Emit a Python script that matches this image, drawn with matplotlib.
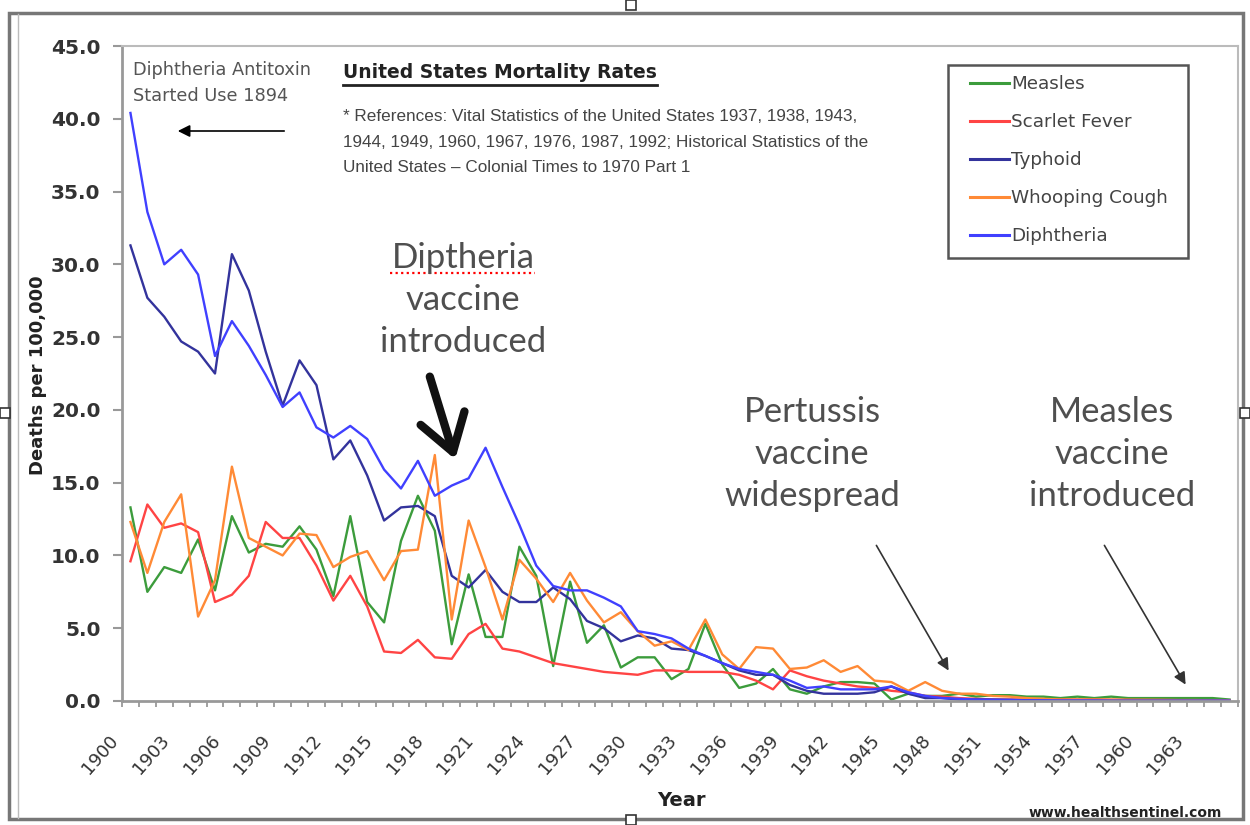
import numpy as np
import matplotlib
matplotlib.use('Agg')
import matplotlib.pyplot as plt
from matplotlib.lines import Line2D
from matplotlib.patches import Rectangle
from matplotlib.transforms import ScaledTranslation
from matplotlib import font_manager

# --- data (deaths per 100,000) ---
years = list(range(1900, 1966))

measles = [13.3, 7.5, 9.2, 8.8, 11.1, 7.6, 12.7, 10.2, 10.8, 10.6,
           12.0, 10.4, 7.2, 12.7, 6.8, 5.4, 11.0, 14.1, 11.7, 3.9,
           8.7, 4.4, 4.4, 10.6, 8.6, 2.4, 8.2, 4.0, 5.2, 2.3,
           3.0, 3.0, 1.5, 2.2, 5.3, 2.5, 0.9, 1.2, 2.2, 0.8,
           0.5, 1.0, 1.3, 1.3, 1.2, 0.1, 0.5, 0.35, 0.35, 0.5,
           0.3, 0.4, 0.4, 0.3, 0.3, 0.2, 0.3, 0.2, 0.3, 0.2,
           0.2, 0.2, 0.2, 0.2, 0.2, 0.1]

scarlet_fever = [9.6, 13.5, 11.9, 12.2, 11.6, 6.8, 7.3, 8.6, 12.3, 11.2,
                 11.2, 9.3, 6.9, 8.6, 6.5, 3.4, 3.3, 4.2, 3.0, 2.9,
                 4.6, 5.3, 3.6, 3.4, 3.0, 2.6, 2.4, 2.2, 2.0, 1.9,
                 1.8, 2.1, 2.1, 2.0, 2.0, 2.0, 1.8, 1.4, 0.8, 2.1,
                 1.7, 1.4, 1.2, 1.0, 0.9, 0.7, 0.6, 0.35, 0.3, 0.2,
                 0.15, 0.1, 0.1, 0.1, 0.1, 0.1, 0.1, 0.1, 0.08, 0.08,
                 0.07, 0.07, 0.06, 0.06, 0.05, 0.05]

typhoid = [31.3, 27.7, 26.4, 24.7, 24.0, 22.5, 30.7, 28.2, 24.0, 20.3,
           23.4, 21.7, 16.6, 17.9, 15.5, 12.4, 13.3, 13.4, 12.7, 8.6,
           7.8, 9.0, 7.5, 6.8, 6.8, 7.8, 7.0, 5.5, 5.0, 4.1,
           4.5, 4.3, 3.6, 3.5, 3.1, 2.6, 2.1, 1.8, 1.8, 1.1,
           0.7, 0.5, 0.5, 0.5, 0.6, 1.0, 0.5, 0.2, 0.2, 0.1,
           0.1, 0.1, 0.08, 0.06, 0.05, 0.05, 0.05, 0.05, 0.04, 0.04,
           0.04, 0.03, 0.03, 0.03, 0.03, 0.03]

whooping_cough = [12.3, 8.8, 12.3, 14.2, 5.8, 8.3, 16.1, 11.2, 10.6, 10.0,
                  11.5, 11.4, 9.2, 9.9, 10.3, 8.3, 10.3, 10.4, 16.9, 5.6,
                  12.4, 9.2, 5.6, 9.7, 8.4, 6.8, 8.8, 6.9, 5.4, 6.1,
                  4.8, 3.8, 4.1, 3.5, 5.6, 3.2, 2.2, 3.7, 3.6, 2.2,
                  2.3, 2.8, 2.0, 2.4, 1.4, 1.3, 0.7, 1.3, 0.7, 0.5,
                  0.5, 0.35, 0.3, 0.2, 0.15, 0.1, 0.1, 0.1, 0.1, 0.08,
                  0.08, 0.07, 0.06, 0.06, 0.05, 0.05]

diphtheria = [40.4, 33.6, 30.0, 31.0, 29.3, 23.7, 26.1, 24.4, 22.4, 20.2,
              21.2, 18.8, 18.1, 18.9, 18.0, 15.9, 14.6, 16.5, 14.1, 14.8,
              15.3, 17.4, 14.7, 12.1, 9.3, 7.9, 7.6, 7.6, 7.1, 6.5,
              4.8, 4.6, 4.3, 3.6, 3.1, 2.6, 2.2, 2.0, 1.8, 1.4,
              0.9, 1.0, 0.8, 0.8, 0.8, 1.0, 0.6, 0.35, 0.2, 0.15,
              0.1, 0.08, 0.07, 0.05, 0.05, 0.04, 0.04, 0.04, 0.03, 0.03,
              0.03, 0.03, 0.03, 0.03, 0.03, 0.03]

series = [('Measles', measles, '#3c9c3c'),
          ('Scarlet Fever', scarlet_fever, '#ff4444'),
          ('Typhoid', typhoid, '#33339c'),
          ('Whooping Cough', whooping_cough, '#ff8a36'),
          ('Diphtheria', diphtheria, '#4040ff')]

label_years = years[::3]   # 1900, 1903 ... 1963
y_ticks = [0, 5, 10, 15, 20, 25, 30, 35, 40, 45]

W, H = 1250, 825


def fx(x):
    return x / W


def fy(y):
    return 1 - y / H


fig = plt.figure(figsize=(12.5, 8.25), dpi=100)
ax = fig.add_axes([fx(122), fy(701), (1238 - 122) / W, (701 - 46) / H])

for name, vals, col in series:
    ax.plot(years, vals, color=col, lw=1.7, label=name, solid_joinstyle='round')

ax.set_xlim(1899.5, 1965.5)
ax.set_ylim(0, 45)

ax.set_yticks(y_ticks)
ax.set_yticklabels(['%.1f' % v for v in y_ticks])
for lbl in ax.get_yticklabels():
    lbl.set_fontweight('bold')
ax.tick_params(axis='y', length=6.5, width=1.5, color='#999999',
               labelsize=14.5, labelcolor='#333333', pad=9)

# tick marks between categories, labels every third year
ax.set_xticks([y - 0.5 for y in years] + [years[-1] + 0.5])
ax.set_xticklabels([])
ax.set_xticks(label_years, minor=True)
ax.set_xticklabels([str(y) for y in label_years], minor=True,
                   rotation=49, ha='right', va='center', rotation_mode='anchor')
ax.tick_params(axis='x', which='major', length=4.5, width=1.3, color='#999999')
ax.tick_params(axis='x', which='minor', length=0, labelsize=13,
               labelcolor='#333333', pad=26)
shift = ScaledTranslation(-15 / 100, 0, fig.dpi_scale_trans)
for lbl in ax.get_xticklabels(minor=True):
    lbl.set_transform(lbl.get_transform() + shift)

for s in ['left', 'bottom']:
    ax.spines[s].set_color('#999999')
    ax.spines[s].set_linewidth(2)
for s in ['top', 'right']:
    ax.spines[s].set_color('#bbbbbb')
    ax.spines[s].set_linewidth(1.5)

# legend with a hand drawn frame
leg = fig.legend(loc='upper left', bbox_to_anchor=(fx(970), fy(75)),
                 frameon=False, fontsize=13.2, handlelength=2.1,
                 handletextpad=0.15, labelspacing=1.09, borderpad=0,
                 borderaxespad=0)
for t in leg.get_texts():
    t.set_color('#444444')
for h in leg.legend_handles:
    h.set_linewidth(2.2)
fig.add_artist(Rectangle((fx(948), fy(258)), (1188 - 948) / W, (258 - 65) / H,
                         transform=fig.transFigure, fill=False,
                         edgecolor='#555555', lw=1.8))

# axis titles and small texts
fig.text(fx(38), fy(375), 'Deaths per 100,000', rotation=90, fontsize=13,
         fontweight='bold', color='#222222', ha='center', va='center')
fig.text(fx(681), fy(800), 'Year', fontsize=14, fontweight='bold',
         color='#222222', ha='center', va='center')
fig.text(fx(1222), fy(813), 'www.healthsentinel.com', fontsize=10,
         fontweight='bold', color='#222222', ha='right', va='center')

fig.text(fx(133), fy(61), 'Diphtheria Antitoxin\nStarted Use 1894',
         fontsize=12.8, color='#555555', va='top', ha='left', linespacing=1.6)
ax.annotate('', xy=(fx(175), fy(131)), xytext=(fx(287), fy(131)),
            xycoords='figure fraction', textcoords='figure fraction',
            arrowprops=dict(arrowstyle='-|>', color='black', lw=1.2,
                            mutation_scale=18))

title = fig.text(fx(343), fy(72), 'United States Mortality Rates', fontsize=13.5,
                 fontweight='bold', color='#222222', ha='left', va='center')

names = {f.name for f in font_manager.fontManager.ttflist}
if 'Liberation Sans Narrow' in names:
    ref_family, ref_size = 'Liberation Sans Narrow', 14
else:
    ref_family, ref_size = 'Liberation Sans', 12.3
fig.text(fx(343), fy(109),
         '* References: Vital Statistics of the United States 1937, 1938, 1943,\n'
         '1944, 1949, 1960, 1967, 1976, 1987, 1992; Historical Statistics of the\n'
         'United States \u2013 Colonial Times to 1970 Part 1',
         family=ref_family, fontsize=ref_size, color='#444444',
         va='top', ha='left', linespacing=1.88)

# big annotations
big = dict(family=['Lato', 'DejaVu Sans'], fontsize=25,
           color='#4f4f4f', ha='center', va='center', multialignment='center',
           linespacing=1.38)
fig.text(fx(463), fy(300), 'Diptheria\nvaccine\nintroduced', **big)
fig.text(fx(812), fy(454), 'Pertussis\nvaccine\nwidespread', **big)
fig.text(fx(1112), fy(454), 'Measles\nvaccine\nintroduced', **big)

fig.add_artist(Line2D([fx(390), fx(535)], [fy(273), fy(273)], color='red',
                      lw=1.6, linestyle=(0, (1, 1.5))))

ax.annotate('', xy=(fx(456), fy(462)), xytext=(fx(429), fy(374)),
            xycoords='figure fraction', textcoords='figure fraction',
            arrowprops=dict(arrowstyle='->,head_length=0.85,head_width=0.55',
                            color='#111111', lw=6, mutation_scale=30))
for x0, y0, x1, y1 in [(875, 543, 950, 673), (1103, 543, 1187, 687)]:
    ax.annotate('', xy=(fx(x1), fy(y1)), xytext=(fx(x0), fy(y0)),
                xycoords='figure fraction', textcoords='figure fraction',
                arrowprops=dict(arrowstyle='-|>', color='#333333', lw=1.2,
                                mutation_scale=18))

# chart area frame and selection handles
fig.add_artist(Rectangle((fx(9), fy(819)), (1243 - 9) / W, (819 - 13) / H,
                         transform=fig.transFigure, fill=False,
                         edgecolor='#777777', lw=2.5))
fig.add_artist(Line2D([fx(18), fx(18)], [fy(14), fy(818)], color='#bbbbbb', lw=1))
for hx, hy in [(626, 0), (0, 408), (1240, 408), (626, 815)]:
    fig.add_artist(Rectangle((fx(hx), fy(hy + 10)), 10 / W, 10 / H,
                             transform=fig.transFigure, facecolor='white',
                             edgecolor='#333333', lw=1.2))

# underline the title
fig.canvas.draw()
bb = title.get_window_extent()
fig.add_artist(Line2D([bb.x0 / W, bb.x1 / W], [(bb.y0 - 3) / H, (bb.y0 - 3) / H],
                      color='#222222', lw=2))

fig.savefig('out.png', dpi=100)
